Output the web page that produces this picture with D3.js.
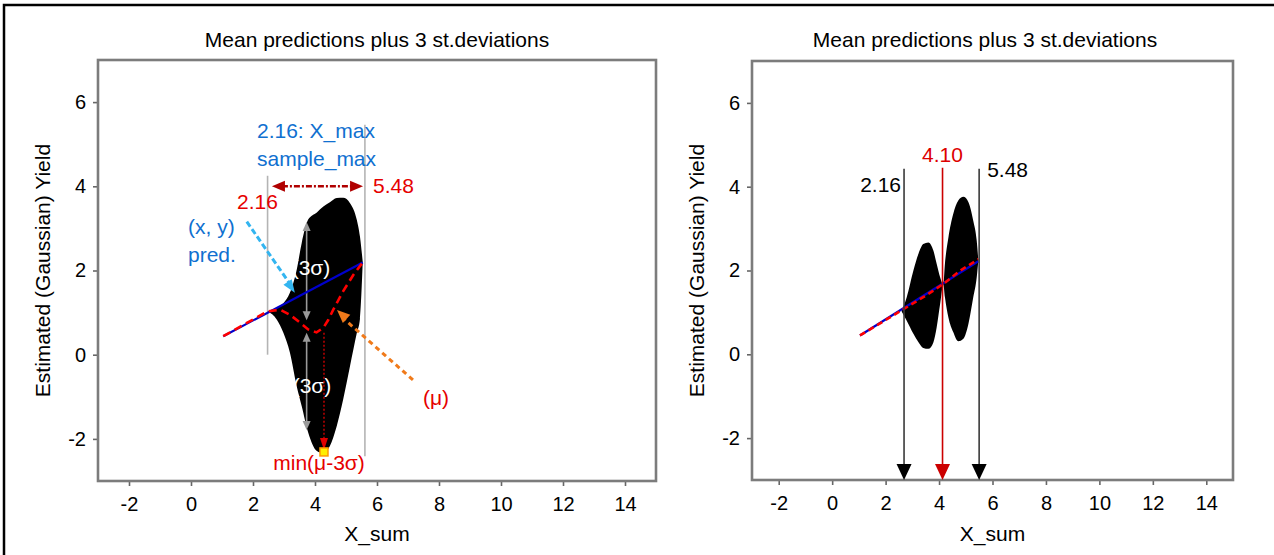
<!DOCTYPE html>
<html><head><meta charset="utf-8">
<script src="https://cdn.jsdelivr.net/npm/d3@7"></script>
<style>body{margin:0;background:#fff} svg{display:block} text{font-family:"Liberation Sans",Arial,sans-serif}</style>
</head><body><svg id="c" width="1274" height="555"></svg>
<script>
// ---------- data ----------
const xTicks = [-2, 0, 2, 4, 6, 8, 10, 12, 14];
const yTicks = [-2, 0, 2, 4, 6];
const xDomain = [-3, 15];
const yDomain = [-3, 7];
const titleText = "Mean predictions plus 3 st.deviations";
const xLabel = "X_sum";
const yLabel = "Estimated (Gaussian) Yield";

// left panel
const leftPredX = [1.04, 5.54];
const leftPredY = [0.44, 2.19];
const leftMuX = [1.04, 2.47, 2.87, 3.19, 3.52, 3.78, 4.05, 4.27, 4.43, 4.59, 4.91, 5.24, 5.54];
const leftMuY = [0.44, 1.03, 1.07, 0.95, 0.76, 0.60, 0.53, 0.64, 0.83, 1.07, 1.51, 1.90, 2.19];
const leftBandX = [2.47, 2.77, 2.98, 3.19, 3.41, 3.57, 3.78, 4.06, 4.27, 4.48, 4.70, 4.91, 5.13, 5.35, 5.45, 5.54];
const leftUpper = [1.03, 1.12, 1.22, 1.47, 2.02, 2.65, 3.21, 3.38, 3.52, 3.62, 3.72, 3.73, 3.60, 3.20, 2.81, 2.20];
const leftLower = [1.03, 0.83, 0.52, 0.05, -0.75, -1.22, -1.85, -2.29, -2.34, -2.17, -1.70, -1.06, -0.27, 0.52, 0.85, 2.20];
const leftBoundX = [2.47, 5.61];
const leftBoundTop = [4.25, 5.46];
const leftBoundBottom = [0.0, -2.41];
const leftMin = [4.29, -2.31];

// right panel
const rightPredX = [1.04, 5.47];
const rightPredY = [0.45, 2.22];
const rightMuX = [1.04, 2.60, 3.50, 4.16, 4.80, 5.47];
const rightMuY = [0.45, 1.05, 1.40, 1.68, 2.00, 2.27];
const rightBandX = [2.60, 2.79, 3.04, 3.23, 3.41, 3.60, 3.79, 3.91, 4.04, 4.16, 4.22, 4.35, 4.53, 4.72, 4.91, 5.10, 5.28, 5.41, 5.47];
const rightUpper = [1.02, 1.36, 2.00, 2.40, 2.63, 2.67, 2.47, 2.16, 1.84, 1.66, 2.16, 2.79, 3.35, 3.67, 3.76, 3.63, 3.19, 2.71, 2.24];
const rightLower = [1.02, 0.80, 0.49, 0.29, 0.15, 0.13, 0.29, 0.64, 1.20, 1.66, 1.36, 0.88, 0.53, 0.31, 0.37, 0.73, 1.36, 1.84, 2.24];
const rightMarkX = [2.69, 4.13, 5.50];
const rightMarkLabels = ["2.16", "4.10", "5.48"];
const rightMarkTop = 4.43;

// ---------- drawing ----------
const FONT = '"Liberation Sans", Arial, sans-serif';
const svg = d3.select("#c");
svg.append("rect").attr("width", 1274).attr("height", 555).attr("fill", "#fff");
svg.append("rect").attr("x", 4).attr("y", 5).attr("width", 1300).attr("height", 600)
  .attr("fill", "none").attr("stroke", "#000").attr("stroke-width", 2.5);

function arrowHead(g, x1, y1, x2, y2, color, len, wid) {
  const a = Math.atan2(y2 - y1, x2 - x1);
  const bx = x2 - len * Math.cos(a), by = y2 - len * Math.sin(a);
  const px = -Math.sin(a) * wid / 2, py = Math.cos(a) * wid / 2;
  g.append("path").attr("d", `M${x2},${y2}L${bx + px},${by + py}L${bx - px},${by - py}Z`).attr("fill", color);
}

function panel(L) {
  const x = d3.scaleLinear(xDomain, [L.x0, L.x1]);
  const y = d3.scaleLinear(yDomain, [L.y1, L.y0]);
  const g = svg.append("g");
  const ax = g.append("g").attr("transform", `translate(0,${L.y1})`)
    .call(d3.axisBottom(x).tickValues(xTicks).tickSize(5).tickPadding(11).tickFormat(d => String(d)));
  const ay = g.append("g").attr("transform", `translate(${L.x0},0)`)
    .call(d3.axisLeft(y).tickValues(yTicks).tickSize(5).tickPadding(7).tickFormat(d => String(d)));
  [ax, ay].forEach(a => {
    a.select(".domain").remove();
    a.attr("font-size", 20).attr("font-family", FONT);
    a.selectAll("line").attr("stroke", "#666").attr("stroke-width", 1.6);
    a.selectAll("text").attr("fill", "#000");
  });
  g.append("rect").attr("x", L.x0).attr("y", L.y0).attr("width", L.x1 - L.x0).attr("height", L.y1 - L.y0)
    .attr("fill", "none").attr("stroke", "#7c7c7c").attr("stroke-width", 2.6);
  g.append("text").attr("x", L.tx).attr("y", 47).attr("text-anchor", "middle").attr("font-size", 21).text(titleText);
  g.append("text").attr("x", (L.x0 + L.x1) / 2).attr("y", 541).attr("text-anchor", "middle").attr("font-size", 21).text(xLabel);
  g.append("text").attr("transform", `translate(${L.yl},${(L.y0 + L.y1) / 2}) rotate(-90)`)
    .attr("text-anchor", "middle").attr("font-size", 21).text(yLabel);
  return { g, x, y };
}

function band(P, xs, up, lo) {
  const idx = d3.range(xs.length);
  P.g.append("path").attr("d", d3.area().curve(d3.curveMonotoneX)
    .x(i => P.x(xs[i])).y0(i => P.y(lo[i])).y1(i => P.y(up[i]))(idx)).attr("fill", "#000");
}
function line(P, xs, ys, color, w, dash) {
  const idx = d3.range(xs.length);
  const p = P.g.append("path").attr("d", d3.line().x(i => P.x(xs[i])).y(i => P.y(ys[i]))(idx))
    .attr("fill", "none").attr("stroke", color).attr("stroke-width", w);
  if (dash) p.attr("stroke-dasharray", dash);
  return p;
}
function txt(g, x, y, s, color, anchor, size) {
  return g.append("text").attr("x", x).attr("y", y).attr("fill", color)
    .attr("text-anchor", anchor || "start").attr("font-size", size || 21).text(s);
}

// ----- left panel -----
const A = panel({ x0: 98, x1: 656, y0: 60, y1: 481, tx: 377, yl: 50 });
leftBoundX.forEach((bx, i) => {
  A.g.append("line").attr("x1", A.x(bx)).attr("x2", A.x(bx)).attr("y1", A.y(leftBoundTop[i])).attr("y2", A.y(leftBoundBottom[i]))
    .attr("stroke", "#b4b4b4").attr("stroke-width", 1.6);
});
band(A, leftBandX, leftUpper, leftLower);
// gray double arrows (3 sigma)
const gx = A.x(3.73);
[[3.15, 0.82], [0.52, -1.79]].forEach(([t, b]) => {
  A.g.append("line").attr("x1", gx).attr("x2", gx).attr("y1", A.y(t) + 6).attr("y2", A.y(b) - 6)
    .attr("stroke", "#9a9a9a").attr("stroke-width", 1.6);
  arrowHead(A.g, gx, A.y(b), gx, A.y(t), "#9a9a9a", 9, 8);
  arrowHead(A.g, gx, A.y(t), gx, A.y(b), "#9a9a9a", 9, 8);
});
txt(A.g, 311, 275, "(3σ)", "#fff", "middle");
txt(A.g, 312, 393, "(3σ)", "#fff", "middle");
line(A, leftPredX, leftPredY, "#0000cc", 2.2);
line(A, leftMuX, leftMuY, "#ff0000", 2.6, "8,5");
// red dotted to minimum
const mx = A.x(leftMin[0]);
A.g.append("line").attr("x1", mx).attr("x2", mx).attr("y1", A.y(0.52)).attr("y2", A.y(leftMin[1]) - 12)
  .attr("stroke", "#c00000").attr("stroke-width", 1.5).attr("stroke-dasharray", "2,2");
arrowHead(A.g, mx, A.y(0.5), mx, A.y(leftMin[1]) - 2, "#e00000", 12, 8);
A.g.append("rect").attr("x", mx - 4).attr("y", A.y(leftMin[1]) - 4).attr("width", 8).attr("height", 8)
  .attr("fill", "#ffee00").attr("stroke", "#ff9900").attr("stroke-width", 1.5);
// dark red double arrow between samples
const dy = A.y(4.0);
A.g.append("line").attr("x1", A.x(2.61) + 10).attr("x2", A.x(5.55) - 10).attr("y1", dy).attr("y2", dy)
  .attr("stroke", "#b00000").attr("stroke-width", 2.4).attr("stroke-dasharray", "6,2,2,2");
arrowHead(A.g, A.x(5.55), dy, A.x(2.61), dy, "#b00000", 13, 11);
arrowHead(A.g, A.x(2.61), dy, A.x(5.55), dy, "#b00000", 13, 11);
// cyan dashed arrow
A.g.append("line").attr("x1", A.x(1.80)).attr("y1", A.y(3.16)).attr("x2", A.x(3.25)).attr("y2", A.y(1.62))
  .attr("stroke", "#33b5f0").attr("stroke-width", 3).attr("stroke-dasharray", "6,3");
arrowHead(A.g, A.x(1.80), A.y(3.16), A.x(3.35), A.y(1.47), "#33b5f0", 13, 10);
// orange dashed arrow
A.g.append("line").attr("x1", A.x(7.16)).attr("y1", A.y(-0.60)).attr("x2", A.x(4.95)).attr("y2", A.y(0.84))
  .attr("stroke", "#f07a1a").attr("stroke-width", 3).attr("stroke-dasharray", "5,4");
arrowHead(A.g, A.x(7.16), A.y(-0.60), A.x(4.71), A.y(1.06), "#f07a1a", 13, 11);
// annotation texts
const blueT = "#1070d0", redT = "#e60000";
txt(A.g, 257, 138, "2.16: X_max", blueT);
txt(A.g, 257, 166, "sample_max", blueT);
txt(A.g, 237, 209, "2.16", redT);
txt(A.g, 373, 193, "5.48", redT);
txt(A.g, 188, 234, "(x, y)", blueT);
txt(A.g, 188, 262, "pred.", blueT);
txt(A.g, 319, 470, "min(μ-3σ)", redT, "middle");
txt(A.g, 423, 405, "(μ)", redT);

// ----- right panel -----
const B = panel({ x0: 752, x1: 1233, y0: 61, y1: 480, tx: 985, yl: 704 });
band(B, rightBandX, rightUpper, rightLower);
line(B, rightPredX, rightPredY, "#0000cc", 2.2);
line(B, rightMuX, rightMuY, "#ff0000", 2.6, "6,4");
rightMarkX.forEach((mxv, i) => {
  const red = i === 1;
  const c = red ? "#cc0000" : "#3a3a3a";
  const xx = B.x(mxv), yb = B.y(yDomain[0]);
  B.g.append("line").attr("x1", xx).attr("x2", xx).attr("y1", B.y(rightMarkTop) - (red ? 1 : 0)).attr("y2", yb - 12)
    .attr("stroke", c).attr("stroke-width", 1.6);
  arrowHead(B.g, xx, 0, xx, yb, red ? "#cc0000" : "#000", 16, 15);
});
txt(B.g, B.x(rightMarkX[0]) - 3, 192, rightMarkLabels[0], "#000", "end");
txt(B.g, B.x(rightMarkX[1]), 162, rightMarkLabels[1], "#dd0000", "middle");
txt(B.g, B.x(rightMarkX[2]) + 8, 177, rightMarkLabels[2], "#000", "start");
</script></body></html>
